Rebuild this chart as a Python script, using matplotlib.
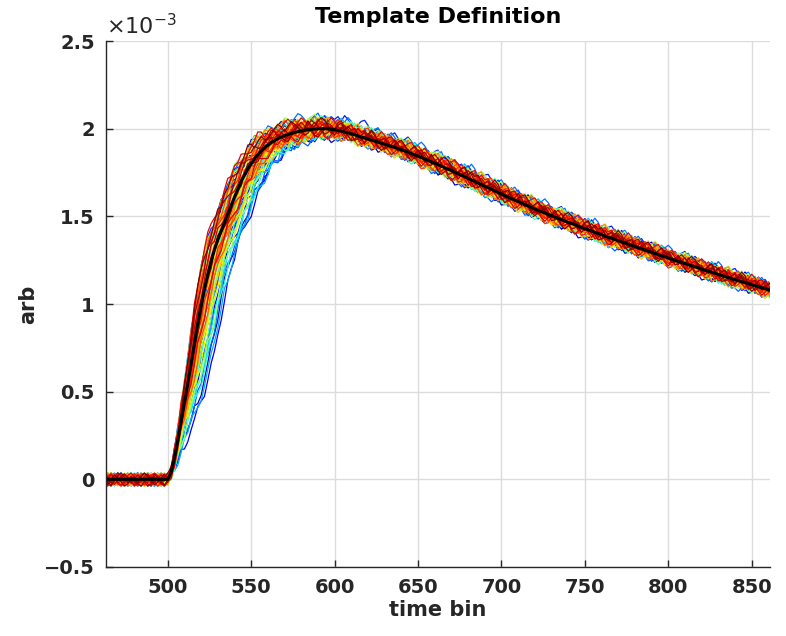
import numpy as np
import matplotlib
matplotlib.use("Agg")
import matplotlib.pyplot as plt

# time axis, 2-bin grid
time_bin = np.arange(462, 864, 2)

# template pulse (units of 1e-3)
template = np.array([
    0, 0, 0, 0, 0, 0, 0, 0, 0, 0, 0, 0, 0, 0, 0, 0, 0, 0, 0, 0,          # 462-500
    0.04, 0.12, 0.22, 0.33, 0.44, 0.54, 0.66, 0.78, 0.89, 0.99,          # 502-520
    1.085, 1.17, 1.245, 1.31, 1.365, 1.415, 1.465, 1.515, 1.56, 1.61,    # 522-540
    1.655, 1.70, 1.735, 1.77, 1.80, 1.83, 1.852, 1.872, 1.89, 1.906,     # 542-560
    1.92, 1.932, 1.943, 1.952, 1.96, 1.967, 1.973, 1.978, 1.983, 1.987,  # 562-580
    1.991, 1.994, 1.996, 1.998, 1.999, 2.0, 2.0, 1.999, 1.997, 1.994,    # 582-600
    1.990, 1.986, 1.981, 1.976, 1.971, 1.965, 1.959, 1.953, 1.947, 1.941,  # 602-620
    1.935, 1.929, 1.923, 1.917, 1.911, 1.905, 1.899, 1.893, 1.887, 1.880,  # 622-640
    1.873, 1.866, 1.858, 1.851, 1.843, 1.835, 1.827, 1.819, 1.811, 1.803,  # 642-660
    1.795, 1.786, 1.778, 1.769, 1.761, 1.752, 1.743, 1.735, 1.726, 1.717,  # 662-680
    1.708, 1.699, 1.690, 1.681, 1.672, 1.663, 1.654, 1.645, 1.636, 1.627,  # 682-700
    1.618, 1.610, 1.601, 1.593, 1.584, 1.576, 1.567, 1.559, 1.550, 1.542,  # 702-720
    1.534, 1.526, 1.519, 1.511, 1.503, 1.496, 1.488, 1.481, 1.473, 1.466,  # 722-740
    1.459, 1.452, 1.444, 1.437, 1.430, 1.423, 1.416, 1.409, 1.402, 1.395,  # 742-760
    1.388, 1.381, 1.375, 1.368, 1.361, 1.354, 1.348, 1.341, 1.334, 1.327,  # 762-780
    1.321, 1.314, 1.308, 1.301, 1.295, 1.288, 1.282, 1.275, 1.269, 1.262,  # 782-800
    1.256, 1.250, 1.243, 1.237, 1.231, 1.224, 1.218, 1.212, 1.206, 1.199,  # 802-820
    1.193, 1.187, 1.181, 1.175, 1.169, 1.163, 1.157, 1.151, 1.145, 1.139,  # 822-840
    1.133, 1.127, 1.122, 1.116, 1.110, 1.104, 1.099, 1.093, 1.087, 1.082,  # 842-860
    1.076,                                                                # 862
])

# individual pulses: rise offset (bins), amplitude, noise phase
trace_shift = [-4, 6, 11, -5, 2, 8, 13, -2, 4, 0, 8, -6, 6, 2, 10, -4, 0, 4, 12, -2,
               6, 9, -5, 2, 4, 10, 0, -3, 6, 2, 8, -2, 4, 0, 9, -5, 2, 6, -2, 0,
               4, 7, -4, 2, 5, 0, -2, 3, -5, 1, 0, 5, -4, 3, -2, 2, 0, -6, 3, -2,
               1, -4, 0, -5]
trace_amp = [1.010, 0.985, 0.990, 1.020, 1.000, 0.980, 0.995, 1.015, 1.005, 0.990,
             1.025, 1.000, 0.985, 1.010, 0.980, 1.030, 0.995, 1.005, 0.990, 1.020,
             1.000, 0.985, 1.015, 0.995, 1.010, 0.990, 1.005, 1.020, 0.985, 1.000,
             1.010, 0.995, 1.015, 0.990, 1.000, 1.025, 0.985, 1.005, 1.010, 0.995,
             1.000, 0.990, 1.015, 1.005, 0.985, 1.010, 1.000, 0.995, 1.020, 0.990,
             1.005, 1.000, 1.010, 0.985, 1.015, 0.995, 1.005, 1.020, 0.990, 1.000,
             1.010, 1.005, 0.995, 1.015]
trace_phase = [0, 7, 15, 22, 3, 30, 11, 26, 18, 5, 33, 9, 20, 1, 28, 14, 36, 6, 24, 12,
               31, 2, 17, 27, 8, 35, 13, 21, 4, 29, 16, 10, 34, 23, 19, 32, 25, 3, 14, 8,
               30, 1, 22, 11, 36, 5, 18, 27, 9, 33, 15, 26, 2, 20, 12, 31, 7, 24, 16, 35,
               4, 28, 13, 21]
wiggle = [0.019, -0.006, 0.029, 0.010, -0.016, -0.032, -0.003, 0.022, 0.035, 0.013,
          -0.019, -0.010, 0.016, -0.026, -0.038, -0.013, 0.006, 0.026, 0.003, -0.022,
          0.010, 0.032, 0.016, -0.006, -0.029, -0.016, 0.013, 0.000, -0.019, 0.022,
          0.038, 0.006, -0.013, -0.032, -0.010, 0.019, 0.003]

fig = plt.figure(figsize=(7.86, 6.36), dpi=100)
ax = fig.add_axes([0.1349, 0.1085, 0.8448, 0.827])

n = len(trace_shift)
cmap = plt.get_cmap("jet")
# spread of the rising edge grows with pulse height and fades out past the peak
warp = np.clip(template / 1.3, 0, 1) * np.clip((660 - time_bin) / 60, 0, 1)
noise_base = np.resize(np.array(wiggle), len(time_bin))
for k in range(n):
    t_src = time_bin - trace_shift[k] * warp
    nz = np.roll(noise_base if k % 2 == 0 else noise_base[::-1], trace_phase[k])
    y = np.interp(t_src, time_bin, template) * trace_amp[k] + nz
    ax.plot(time_bin, y, color=cmap(k / (n - 1)), lw=0.9)

ax.plot(time_bin, template, color="black", lw=2.2)

ax.set_xlim(463, 861)
ax.set_ylim(-0.5, 2.5)
ax.set_xticks([500, 550, 600, 650, 700, 750, 800, 850])
ax.set_yticks([-0.5, 0, 0.5, 1, 1.5, 2, 2.5])
ax.set_yticklabels(["\u22120.5", "0", "0.5", "1", "1.5", "2", "2.5"])
ax.grid(True, color="#dcdcdc", lw=1.0)
ax.set_axisbelow(True)
for s in ["top", "right"]:
    ax.spines[s].set_visible(False)
for s in ["left", "bottom"]:
    ax.spines[s].set_color("#262626")
    ax.spines[s].set_linewidth(1.0)
ax.tick_params(direction="in", length=5, width=1.0, colors="#262626", labelsize=14, pad=8)
for lab in ax.get_xticklabels() + ax.get_yticklabels():
    lab.set_fontweight("bold")

ax.set_xlabel("time bin", fontsize=15, fontweight="bold", color="#262626", labelpad=2)
ax.set_ylabel("arb", fontsize=15, fontweight="bold", color="#262626", labelpad=4)
ax.set_title("Template Definition", fontsize=16, fontweight="bold", pad=13)
ax.text(0.0, 1.005, r"$\times10^{-3}$", transform=ax.transAxes, fontsize=16,
        color="#262626", ha="left", va="bottom")

fig.savefig("out.png", dpi=100)
